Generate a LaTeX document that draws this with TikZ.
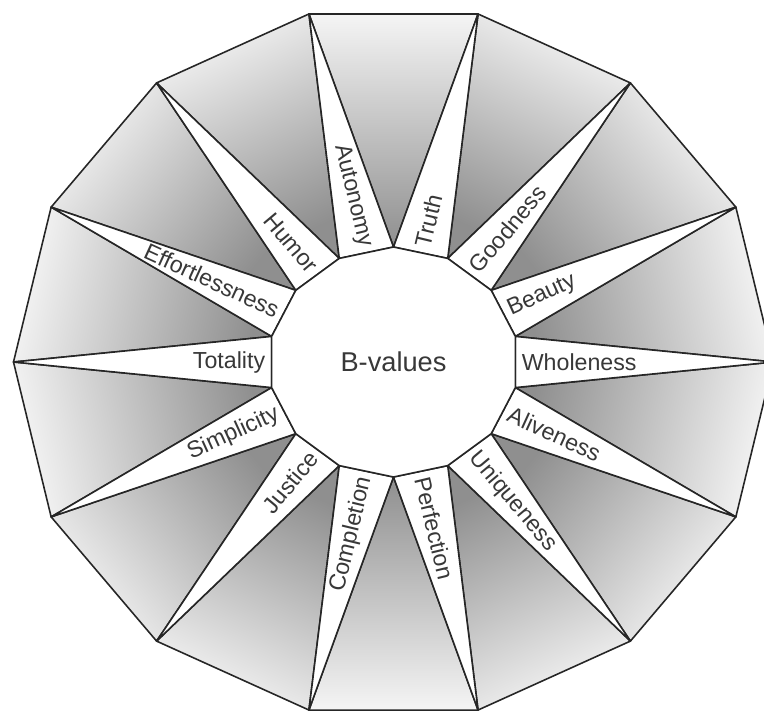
\documentclass[tikz,border=0pt]{standalone}
\usepackage{fontspec}
\setmainfont{Liberation Sans}

\begin{document}
\begin{tikzpicture}[
    x=0.02cm, y=0.02cm,
    rim/.style={draw=black!85, line width=0.9pt, line join=round},
    wedge/.style={rim, top color=black!4, bottom color=black!44},
    spike/.style={rim, fill=white},
    valtext/.style={font=\fontsize{13.2}{16}\selectfont, text=black!78, inner sep=0pt},
    centertext/.style={font=\fontsize{15.5}{18}\selectfont, text=black!78}
  ]
  \useasboundingbox (-393.5,-349) rectangle (370.5,362);

  % outer and inner corners
  \foreach \k in {0,...,13} {
    \coordinate (o\k) at ({380*cos(\k*360/14)}, {357*sin(\k*360/14)});
    \coordinate (i\k) at ({125*cos(\k*360/14+180/14)}, {115*sin(\k*360/14+180/14)});
  }

  % shaded wedges
  \foreach \k [evaluate=\k as \nx using {int(mod(\k+1,14))},
               evaluate=\k as \sa using {\k*360/14+180/14-90}] in {0,...,13}
    \path[wedge, shading angle=\sa] (o\k) -- (o\nx) -- (i\k) -- cycle;

  % white spikes
  \foreach \k [evaluate=\k as \pv using {int(mod(\k+13,14))}] in {0,...,13}
    \path[spike] (i\pv) -- (o\k) -- (i\k) -- cycle;

  % hub
  \path[spike] (i0) \foreach \k in {1,...,13} { -- (i\k) } -- cycle;
  \node[centertext] (hub) at (0,0) {B-values};

  % values
  \foreach \k/\val/\side/\flip in {0/Wholeness/west/0, 1/Beauty/west/0,
      2/Goodness/west/0, 3/Truth/west/0, 4/Autonomy/east/180,
      5/Humor/east/180, 6/Effortlessness/east/180, 7/Totality/east/180,
      8/Simplicity/east/180, 9/Justice/east/180, 10/Completion/east/180,
      11/Perfection/west/0, 12/Uniqueness/west/0, 13/Aliveness/west/0} {
    \pgfmathsetmacro\ang{\k*360/14}
    \pgfmathsetmacro\rot{atan2(245*sin(\ang),258*cos(\ang))+\flip}
    \node[valtext, anchor=\side, rotate=\rot] (v\k) at ({128*cos(\ang)},{118*sin(\ang)}) {\val};
  }
\end{tikzpicture}
\end{document}
